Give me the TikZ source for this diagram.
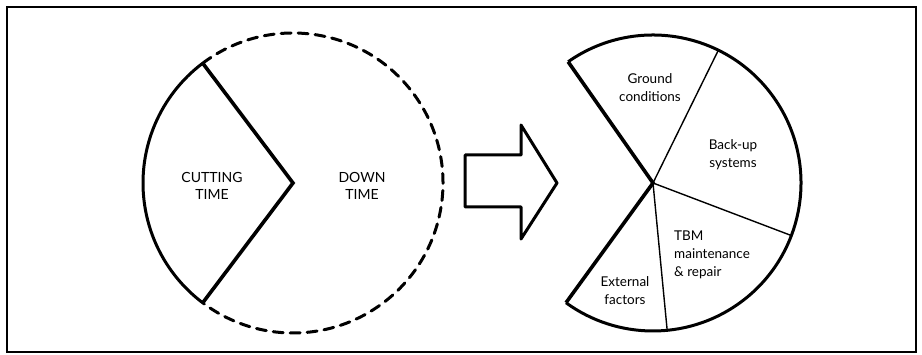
\documentclass[tikz,border=0pt]{standalone}
\usepackage{fontspec}
\setmainfont{Lato}
\usetikzlibrary{calc}
\begin{document}
\begin{tikzpicture}[x=1pt,y=1pt,
  frame/.style={line width=2.4pt},
  thick edge/.style={line width=3.6pt, line join=miter},
  rim/.style={line width=3pt},
  divider/.style={line width=1.4pt},
  dashrim/.style={line width=3pt, dash pattern=on 10pt off 7pt, line cap=round},
  bigarrow/.style={line width=3pt, line join=round},
  caplabel/.style={align=center, font=\fontsize{14}{17}\selectfont, inner sep=0pt},
  smalllabel/.style={align=center, font=\fontsize{13.5}{18}\selectfont, inner sep=0pt}
]
\useasboundingbox (0,0) rectangle (922,354);
\fill[white] (0,0) rectangle (922,354);
\draw[frame] (7,347) rectangle (916,2);

% left circle
\coordinate (C1) at (293,171);
\coordinate (W1a) at ($(C1)+(127:150)$);
\coordinate (W1b) at ($(C1)+(233:150)$);
\draw[dashrim] (W1a) arc[start angle=127, end angle=-127, radius=150];
\draw[rim] (W1a) arc[start angle=127, end angle=233, radius=150];
\draw[thick edge] (W1a) -- (C1) -- (W1b);
\node[caplabel] (cut) at (212,168.5) {CUTTING\\TIME};
\node[caplabel] (down) at (362,168.5) {DOWN\\TIME};

% block arrow
\draw[bigarrow] (465,199) -- (521,199) -- (521,229) -- (557,171) -- (521,115) -- (521,147) -- (465,147) -- cycle;

% right pie
\coordinate (C2) at (653,171);
\coordinate (W2a) at ($(C2)+(125:148)$);
\coordinate (W2b) at ($(C2)+(-126:148)$);
\draw[rim] (W2a) arc[start angle=125, end angle=-126, radius=148];
\draw[thick edge] (W2a) -- (C2) -- (W2b);
\draw[divider] (C2) -- ++(63.8:148);
\draw[divider] (C2) -- ++(-20.8:148);
\draw[divider] (C2) -- ++(-84.5:148);
\node[smalllabel] (ground) at (650,266.5) {Ground\\conditions};
\node[smalllabel] (backup) at (733,199) {Back-up\\systems};
\node[smalllabel, align=left, anchor=west] (tbm) at (674,99) {TBM\\maintenance\\\& repair};
\node[smalllabel] (ext) at (625,63.5) {External\\factors};
\end{tikzpicture}
\end{document}
